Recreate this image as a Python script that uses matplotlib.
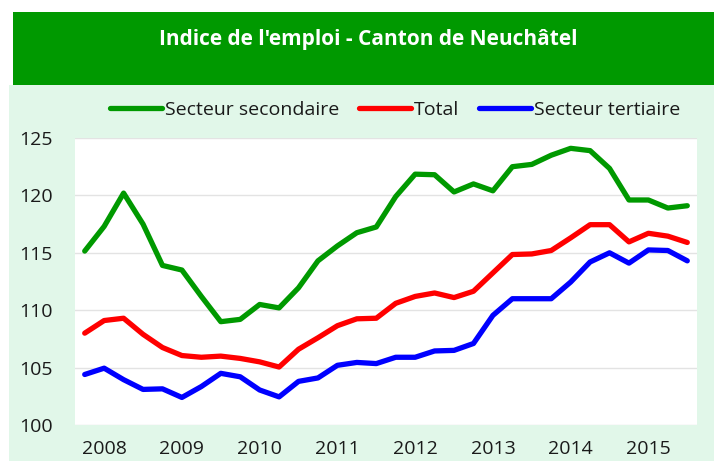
import matplotlib
matplotlib.use("Agg")
import matplotlib.pyplot as plt
from matplotlib.patches import Rectangle

title = "Indice de l'emploi - Canton de Neuchâtel"
years = ["2008", "2009", "2010", "2011", "2012", "2013", "2014", "2015"]
secondaire = [115.15, 117.3, 120.2, 117.5, 113.9, 113.5, 111.2, 109.0,
              109.2, 110.5, 110.2, 111.95, 114.3, 115.6, 116.75, 117.25,
              119.9, 121.85, 121.8, 120.3, 121.0, 120.4, 122.5, 122.7,
              123.5, 124.1, 123.9, 122.35, 119.6, 119.6, 118.9, 119.1]
total = [108.0, 109.1, 109.3, 107.9, 106.75, 106.05, 105.9, 106.0,
         105.8, 105.5, 105.05, 106.6, 107.6, 108.65, 109.25, 109.3,
         110.6, 111.2, 111.5, 111.1, 111.65, 113.25, 114.85, 114.9,
         115.2, 116.3, 117.45, 117.45, 115.95, 116.7, 116.45, 115.9]
tertiaire = [104.4, 104.95, 103.95, 103.1, 103.15, 102.4, 103.35, 104.5,
             104.2, 103.05, 102.45, 103.8, 104.1, 105.2, 105.45, 105.35,
             105.9, 105.9, 106.45, 106.5, 107.1, 109.55, 111.0, 111.0,
             111.0, 112.45, 114.2, 115.0, 114.1, 115.25, 115.2, 114.3]
series_names = ["Secteur secondaire", "Total", "Secteur tertiaire"]
colors = ["#009900", "#ff0000", "#0000ff"]

FONT = "Open Sans"
W, H = 714, 461
fig = plt.figure(figsize=(W / 100, H / 100), dpi=100, facecolor="white")

# backgrounds
fig.patches.append(Rectangle((9 / W, 0), 1 - 9 / W, 1 - 85 / H, transform=fig.transFigure,
                             facecolor="#e1f7e9", edgecolor="none", zorder=-10))
fig.patches.append(Rectangle((13 / W, 1 - 85 / H), 1 - 13 / W, 73 / H, transform=fig.transFigure,
                             facecolor="#009900", edgecolor="none", zorder=-10))
fig.text(368 / W, 1 - 39 / H, title, color="white", fontsize=15, fontweight="bold",
         family=FONT, ha="center", va="center")

ax = fig.add_axes([75 / W, 1 - 425 / H, (697 - 75) / W, (425 - 138) / H])
ax.set_zorder(2)
ax.set_facecolor("white")
x = list(range(len(total)))
for vals, name, c in zip([secondaire, total, tertiaire], series_names, colors):
    ax.plot(x, vals, color=c, lw=3.8, label=name, solid_capstyle="round",
            solid_joinstyle="round", zorder=3)

ax.set_xlim(-0.5, len(total) - 0.5)
ax.set_ylim(100, 125)
ax.set_yticks(range(100, 126, 5))
ax.set_xticks([1 + 4 * i for i in range(len(years))])
ax.set_xticklabels(years)
ax.grid(axis="y", color="#e3e3e3", lw=1, zorder=0)
ax.grid(axis="x", visible=False)
for s in ax.spines.values():
    s.set_visible(False)
ax.tick_params(axis="both", length=0, labelsize=14, colors="#1a1a1a")
ax.tick_params(axis="y", pad=16)
ax.tick_params(axis="x", pad=11)
for lab in ax.get_xticklabels() + ax.get_yticklabels():
    lab.set_family(FONT)

leg = fig.legend(loc="center", bbox_to_anchor=(395 / W, 1 - 110 / H), ncol=3, frameon=False,
                 prop={"family": FONT, "size": 14}, handlelength=2.7, handletextpad=0.15,
                 columnspacing=1.0)
for t in leg.get_texts():
    t.set_color("#1a1a1a")

fig.savefig("out.png", dpi=100, facecolor="white")
